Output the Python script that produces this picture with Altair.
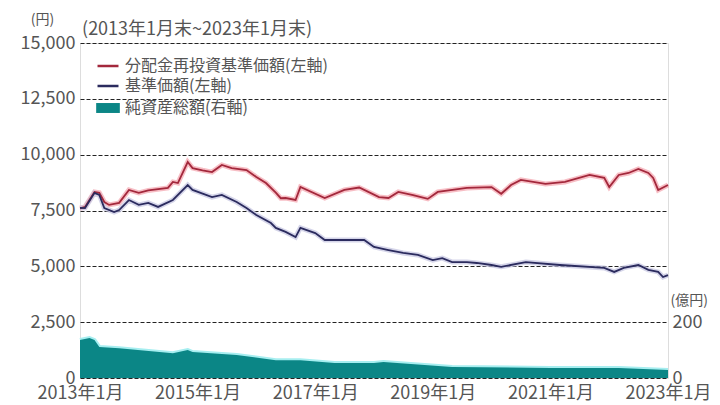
import altair as alt
import pandas as pd

FONT = "Noto Sans CJK JP"

# 分配金再投資基準価額(左軸) 円
red_dates = ["2013-01", "2013-02", "2013-04", "2013-05", "2013-06", "2013-07", "2013-09", "2013-11",
             "2014-01", "2014-03", "2014-07", "2014-08", "2014-09", "2014-11", "2014-12",
             "2015-02", "2015-04", "2015-06", "2015-08", "2015-11", "2016-01", "2016-03",
             "2016-05", "2016-06", "2016-07", "2016-09", "2016-10", "2017-03", "2017-07",
             "2017-10", "2018-02", "2018-04", "2018-06", "2018-09", "2018-12", "2019-02",
             "2019-08", "2020-01", "2020-03", "2020-05", "2020-07", "2020-12", "2021-04",
             "2021-09", "2021-12", "2022-01", "2022-03", "2022-05", "2022-07", "2022-09",
             "2022-10", "2022-11", "2023-01"]
red_values = [7600, 7660, 8330, 8290, 7880, 7750, 7840, 8420,
              8290, 8400, 8510, 8780, 8730, 9670, 9400,
              9300, 9220, 9540, 9400, 9310, 9000, 8730,
              8300, 8050, 8060, 7970, 8550, 8060, 8420,
              8530, 8100, 8060, 8330, 8190, 8020, 8330,
              8510, 8550, 8250, 8640, 8870, 8690, 8780,
              9090, 8960, 8550, 9090, 9180, 9360, 9180,
              8960, 8420, 8640]

# 基準価額(左軸) 円
blue_dates = ["2013-01", "2013-02", "2013-04", "2013-05", "2013-06", "2013-08", "2013-09", "2013-11",
              "2014-01", "2014-03", "2014-05", "2014-08", "2014-11", "2014-12", "2015-04",
              "2015-06", "2015-09", "2015-11", "2016-01", "2016-04", "2016-05", "2016-07",
              "2016-09", "2016-10", "2017-01", "2017-03", "2017-09", "2017-11", "2018-01",
              "2018-04", "2018-07", "2018-10", "2019-01", "2019-03", "2019-05", "2019-08",
              "2019-10", "2020-01", "2020-03", "2020-08", "2021-03", "2021-12", "2022-02",
              "2022-04", "2022-07", "2022-09", "2022-11", "2022-12", "2023-01"]
blue_values = [7620, 7610, 8290, 8200, 7610, 7430, 7520, 7970,
               7750, 7840, 7660, 7970, 8640, 8420, 8100,
               8200, 7880, 7610, 7300, 6940, 6720, 6540,
               6310, 6720, 6490, 6180, 6180, 6180, 5870,
               5730, 5600, 5510, 5280, 5370, 5190, 5190,
               5150, 5060, 4980, 5190, 5060, 4930, 4750,
               4930, 5060, 4840, 4750, 4520, 4610]

# 純資産総額(右軸) 億円
nav_dates = ["2013-01", "2013-03", "2013-04", "2013-05", "2013-09", "2014-08", "2014-11", "2014-12",
             "2015-09", "2016-05", "2016-10", "2017-05", "2018-01", "2018-03", "2019-05",
             "2021-01", "2022-03", "2023-01"]
nav_values = [136, 143, 136, 111, 107, 89, 100, 93,
              82, 64, 64, 54, 54, 57, 39,
              36, 36, 29]

RED_NAME = "分配金再投資基準価額(左軸)"
BLUE_NAME = "基準価額(左軸)"
NAV_NAME = "純資産総額(右軸)"

left_ticks = [0, 2500, 5000, 7500, 10000, 12500, 15000]
right_ticks = [0, 200]
x_tick_years = [2013, 2015, 2017, 2019, 2021, 2023]

red_df = pd.DataFrame({"date": red_dates, "value": red_values, "series": RED_NAME})
blue_df = pd.DataFrame({"date": blue_dates, "value": blue_values, "series": BLUE_NAME})
lines_df = pd.concat([red_df, blue_df], ignore_index=True)
nav_df = pd.DataFrame({"date": nav_dates, "value": nav_values, "series": NAV_NAME})

x_enc = alt.X(
    "date:T",
    scale=alt.Scale(type="utc", domain=[alt.DateTime(year=2013, month=1, date=1, utc=True),
                                        alt.DateTime(year=2023, month=1, date=1, utc=True)]),
    axis=alt.Axis(
        values=[alt.DateTime(year=y, month=1, date=1, utc=True) for y in x_tick_years],
        labelExpr="utcFormat(datum.value, '%Y') + '年1月'",
        title=None, grid=False, domain=False, ticks=False,
        labelFontSize=18, labelColor="#555", labelFont=FONT, labelPadding=6,
        labelFlush=False, labelOverlap=False,
    ),
)

y_left_scale = alt.Scale(domain=[0, 15000], nice=False)
y_left_axis = alt.Axis(
    orient="left", values=left_ticks, format=",d", title="(円)",
    titleAngle=0, titleX=-38, titleY=-24, titleAlign="center", titleBaseline="middle",
    titleFontSize=14, titleFontWeight="normal", titleColor="#555", titleFont=FONT,
    labelFontSize=18, labelColor="#555", labelFont=FONT, labelPadding=5,
    domain=False, ticks=False,
    grid=True, gridDash=[4, 2], gridColor="#222", gridWidth=1,
)

halo_red = alt.Chart(red_df).mark_line(strokeWidth=5, color="#f4a3ad", opacity=0.7).encode(
    x=x_enc, y=alt.Y("value:Q", scale=y_left_scale, axis=y_left_axis))
halo_blue = alt.Chart(blue_df).mark_line(strokeWidth=5, color="#c3c3e0", opacity=0.7).encode(
    x=x_enc, y=alt.Y("value:Q", scale=y_left_scale))
core = alt.Chart(lines_df).mark_line(strokeWidth=1.8).encode(
    x=x_enc,
    y=alt.Y("value:Q", scale=y_left_scale),
    stroke=alt.Stroke(
        "series:N",
        scale=alt.Scale(domain=[RED_NAME, BLUE_NAME], range=["#a3283c", "#2b2b5e"]),
        legend=alt.Legend(
            orient="none", legendX=16, legendY=11, title=None,
            symbolType="stroke", symbolStrokeWidth=2.5, symbolSize=440,
            labelFontSize=16, labelColor="#555", labelFont=FONT, rowPadding=0,
            labelOffset=5, labelLimit=400,
        ),
    ),
    detail="series:N",
)

left = alt.layer(halo_red, halo_blue, core)

y_right_scale = alt.Scale(domain=[0, 1200], nice=False)
y_right_axis = alt.Axis(
    orient="right", values=right_ticks, title="(億円)",
    titleAngle=0, titleX=2, titleY=257, titleAlign="left", titleBaseline="middle",
    titleFontSize=14, titleFontWeight="normal", titleColor="#555", titleFont=FONT,
    labelFontSize=18, labelColor="#555", labelFont=FONT, labelPadding=4,
    domain=False, ticks=False, grid=False,
)

edge = alt.Chart(nav_df).mark_line(strokeWidth=4, color="#a6eef0").encode(
    x=x_enc, y=alt.Y("value:Q", scale=y_right_scale, axis=y_right_axis))
area = alt.Chart(nav_df).mark_area(opacity=1).encode(
    x=x_enc,
    y=alt.Y("value:Q", scale=y_right_scale),
    fill=alt.Fill(
        "series:N",
        scale=alt.Scale(domain=[NAV_NAME], range=["#0b8686"]),
        legend=alt.Legend(
            orient="none", legendX=16, legendY=53, title=None,
            symbolType="M-1,-0.42H1V0.42H-1Z", symbolSize=560, symbolStrokeWidth=0,
            labelFontSize=16, labelColor="#555", labelFont=FONT, labelOffset=5,
            labelLimit=400,
        ),
    ),
)

right = alt.layer(edge, area)

chart = alt.layer(left, right).resolve_scale(y="independent", stroke="independent", fill="independent").properties(
    width=588,
    height=335,
    padding={"left": 72, "top": 35, "right": 44, "bottom": 26},
    autosize=alt.AutoSizeParams(type="none"),
    title=alt.TitleParams(
        text="(2013年1月末~2023年1月末)", anchor="start", dx=62, offset=0, dy=27,
        fontSize=18, fontWeight="normal", color="#555", font=FONT,
    ),
).configure_view(
    stroke="#555", strokeWidth=1.6
).configure(background="white")

chart.save("out.html", embed_options={"renderer": "svg", "actions": False})
